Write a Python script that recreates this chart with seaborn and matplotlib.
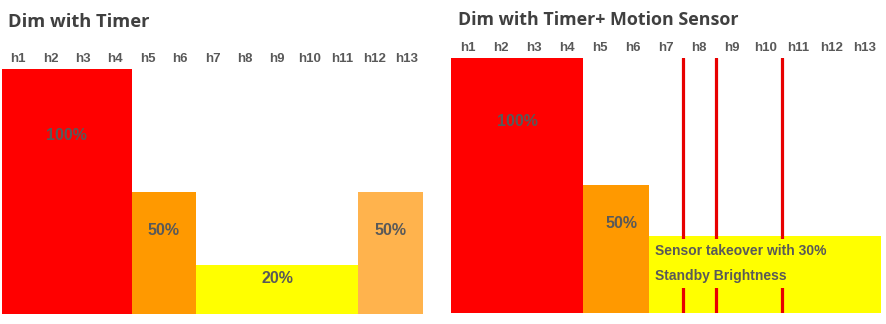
import matplotlib
matplotlib.use("Agg")
import matplotlib.pyplot as plt
import seaborn as sns
from matplotlib import font_manager

# ---------------- data ----------------
hours = [f"h{i}" for i in range(1, 14)]
timer_values = [100, 100, 100, 100, 50, 50, 20, 20, 20, 20, 20, 50, 50]
sensor_values = [100, 100, 100, 100, 50, 50, 30, 30, 30, 30, 30, 30, 30]
motion_event_hours = [7, 8, 10]          # motion detected at end of these hours
timer_labels = ["100%", "50%", "20%", "50%"]
sensor_labels = ["100%", "50%"]
sensor_note = "Sensor takeover with 30%\nStandby Brightness"

# ---------------- style ----------------
timer_colors = ["#FF0000"] * 4 + ["#FF9900"] * 2 + ["#FFFF00"] * 5 + ["#FFB34D"] * 2
sensor_colors = ["#FF0000"] * 4 + ["#FF9900"] * 2 + ["#FFFF00"] * 7

sns.set_style("white")
names = {f.name for f in font_manager.fontManager.ttflist}
narrow = "Liberation Sans Narrow" if "Liberation Sans Narrow" in names else "Liberation Sans"
plt.rcParams["font.family"] = ["DejaVu Sans"]
TXT = "#595959"
TITLE = "#404040"

W, H = 887, 324
fig = plt.figure(figsize=(W / 100, H / 100), dpi=100)

def px_axes(x0, x1, ytop, ybot):
    return fig.add_axes([x0 / W, (H - ybot) / H, (x1 - x0) / W, (ybot - ytop) / H])

ax1 = px_axes(2, 423, 69, 314)
ax2 = px_axes(451, 881, 58, 313)

def draw(ax, values, colors):
    sns.barplot(x=hours, y=values, hue=hours, palette=dict(zip(hours, colors)),
                width=1.0, saturation=1, legend=False, ax=ax, linewidth=0,
                antialiased=False)
    ax.set_xlim(-0.5, len(hours) - 0.5)
    ax.set_ylim(0, 100)
    for s in ax.spines.values():
        s.set_visible(False)
    ax.set_yticks([])
    ax.set_xlabel("")
    ax.set_ylabel("")
    ax.xaxis.tick_top()
    ax.tick_params(axis="x", length=0, pad=3, labelsize=9.5, labelcolor=TXT)
    for lbl in ax.get_xticklabels():
        lbl.set_fontfamily(narrow)
        lbl.set_fontweight("bold")

draw(ax1, timer_values, timer_colors)
draw(ax2, sensor_values, sensor_colors)

lab_kw = dict(ha="center", va="center", fontsize=11.5, family=narrow,
              weight="bold", color=TXT, zorder=5)

# block labels (centred on each block, placed inside the bar)
timer_blocks = [(0, 3), (4, 5), (6, 10), (11, 12)]
timer_label_y = [73, 34, 14.3, 34]
for (a, b), t, y in zip(timer_blocks, timer_labels, timer_label_y):
    ax1.text((a + b) / 2, y, t, **lab_kw)

sensor_blocks = [(0, 3), (4, 5)]
sensor_label_y = [75, 35]
for (a, b), t, y in zip(sensor_blocks, sensor_labels, sensor_label_y):
    ax2.text((a + b) / 2 + 0.15 * (a == 4), y, t, **lab_kw)

# motion events
for h in motion_event_hours:
    ax2.axvline(h - 0.5, color="#E80000", lw=2.3, zorder=3)

ax2.text(5.68, 19.4, sensor_note, ha="left", va="center", fontsize=10,
         family=narrow, weight="bold", color=TXT, linespacing=1.95, zorder=6,
         bbox=dict(boxstyle="square,pad=0.35", fc="#FFFF00", ec="none"))

# titles
fig.text(8 / W, (H - 27) / H, "Dim with Timer", ha="left", va="baseline",
         fontsize=13.2, family="Open Sans", weight="bold", color=TITLE)
fig.text(458 / W, (H - 25) / H, "Dim with Timer+ Motion Sensor", ha="left",
         va="baseline", fontsize=12.9, family="Open Sans", weight="bold",
         color=TITLE)

fig.savefig("out.png", dpi=100)
